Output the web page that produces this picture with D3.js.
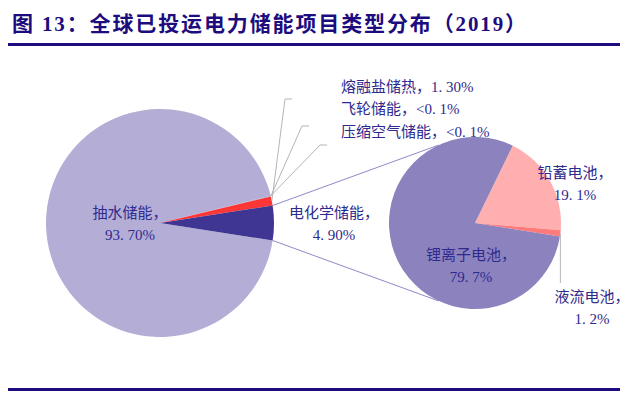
<!DOCTYPE html>
<html><head><meta charset="utf-8">
<script src="https://cdn.jsdelivr.net/npm/d3@7"></script>
<style>
html,body{margin:0;padding:0;background:#fff;}
svg{display:block;}
</style></head>
<body>
<svg id="chart" width="640" height="395"></svg>
<script>
// ---- data ----
const mainCategories = ["抽水储能", "压缩空气储能", "飞轮储能", "熔融盐储热", "电化学储能"];
const mainValues = [93.7, 0.05, 0.05, 1.3, 4.9];
const mainValueLabels = ["93. 70%", "<0. 1%", "<0. 1%", "1. 30%", "4. 90%"];
const subCategories = ["铅蓄电池", "液流电池", "锂离子电池"];
const subValues = [19.1, 1.2, 79.7];
const subValueLabels = ["19. 1%", "1. 2%", "79. 7%"];
const titleText = "图 13：全球已投运电力储能项目类型分布（2019）";

// ---- styles ----
const mainColors = ["#B4AED6", "#A9A4D0", "#9D98CA", "#FF3636", "#3F3593"];
const subColors = ["#FFAFAF", "#FF7B7B", "#8B82BE"];
const textColor = "#2F2A8E";
const navy = "#1C0C7E";
const labelFont = "'Liberation Serif','Noto Sans CJK SC',serif";

const svg = d3.select("#chart");
const deg = Math.PI / 180;

// title and rules
svg.append("text").attr("x", 12).attr("y", 31)
  .attr("font-family", "'Liberation Serif','Noto Sans CJK SC',serif")
  .attr("font-weight", "bold").attr("font-size", 21).attr("fill", navy)
  .attr("textLength", 514).attr("lengthAdjust", "spacing")
  .text(titleText);
svg.append("rect").attr("x", 8).attr("y", 43).attr("width", 612).attr("height", 3).attr("fill", navy);
svg.append("rect").attr("x", 8).attr("y", 388).attr("width", 612).attr("height", 3).attr("fill", navy);

// ---- main pie ----
const mc = [160, 223], mr = 114;
const total = d3.sum(mainValues);
const lastFrac = mainValues[mainValues.length - 1] / total;
const mainStart = Math.PI / 2 + lastFrac * Math.PI - 2 * Math.PI;
const mainPie = d3.pie().sort(null).value(d => d)
  .startAngle(mainStart).endAngle(mainStart + 2 * Math.PI);
const mainArcs = mainPie(mainValues);
const mainArc = d3.arc().innerRadius(0).outerRadius(mr);
const gMain = svg.append("g").attr("transform", `translate(${mc[0]},${mc[1]})`);
gMain.selectAll("path").data(mainArcs).join("path")
  .attr("d", mainArc).attr("fill", (d, i) => mainColors[i]);

// ---- secondary pie ----
const sc = [475, 223], sr = 86;
const subStart = 26 * deg;
const subPie = d3.pie().sort(null).value(d => d)
  .startAngle(subStart).endAngle(subStart + 2 * Math.PI);
const subArcs = subPie(subValues);
const subArc = d3.arc().innerRadius(0).outerRadius(sr);
const gSub = svg.append("g").attr("transform", `translate(${sc[0]},${sc[1]})`);
gSub.selectAll("path").data(subArcs).join("path")
  .attr("d", subArc).attr("fill", (d, i) => subColors[i]);

// polar helper (d3 angle: clockwise from 12 o'clock)
const pt = (c, r, a) => [c[0] + r * Math.sin(a), c[1] - r * Math.cos(a)];

// connector lines
const agg = mainArcs[mainArcs.length - 1];
const cA = pt(mc, mr, agg.startAngle), cB = pt(mc, mr, agg.endAngle);
const sA = pt(sc, sr, -25 * deg), sB = pt(sc, sr, 205 * deg);
[[cA, sA], [cB, sB]].forEach(([p, q]) => {
  svg.append("line").attr("x1", p[0]).attr("y1", p[1]).attr("x2", q[0]).attr("y2", q[1])
    .attr("stroke", "#8F89C8").attr("stroke-width", 1);
});

// leader lines for small slices
const leaderEnds = { 3: [285, 99, 292], 2: [302, 126, 309], 1: [320, 145, 327] };
Object.keys(leaderEnds).forEach(k => {
  const a = mainArcs[k];
  const p = pt(mc, mr, (a.startAngle + a.endAngle) / 2);
  const [x, y, x2] = leaderEnds[k];
  svg.append("polyline").attr("points", `${p[0]},${p[1]} ${x},${y} ${x2},${y}`)
    .attr("fill", "none").attr("stroke", "#B5B5B5").attr("stroke-width", 1);
});
// leader for flow battery
{
  const a = subArcs[1];
  const p = pt(sc, sr, (a.startAngle + a.endAngle) / 2);
  svg.append("polyline").attr("points", `${p[0]},${p[1]} ${p[0]},283`)
    .attr("fill", "none").attr("stroke", "#B5B5B5").attr("stroke-width", 1);
}

// ---- labels ----
function label(x, y, lines, anchor) {
  const t = svg.append("text").attr("x", x).attr("y", y)
    .attr("font-family", labelFont).attr("font-size", 15).attr("fill", textColor)
    .attr("text-anchor", anchor);
  lines.forEach((s, i) => t.append("tspan").attr("x", x).attr("dy", i ? 22 : 0).text(s));
}
// one-line labels for small slices
label(341, 92, [mainCategories[3] + "，" + mainValueLabels[3]], "start");
label(341, 114, [mainCategories[2] + "，" + mainValueLabels[2]], "start");
label(341, 137, [mainCategories[1] + "，" + mainValueLabels[1]], "start");
// two-line labels
label(130, 218, [mainCategories[0] + "，", mainValueLabels[0]], "middle");
label(334, 218, [mainCategories[4] + "，", mainValueLabels[4]], "middle");
label(575, 178, [subCategories[0] + "，", subValueLabels[0]], "middle");
label(471, 260, [subCategories[2] + "，", subValueLabels[2]], "middle");
label(592, 302, [subCategories[1] + "，", subValueLabels[1]], "middle");
</script>
</body></html>
